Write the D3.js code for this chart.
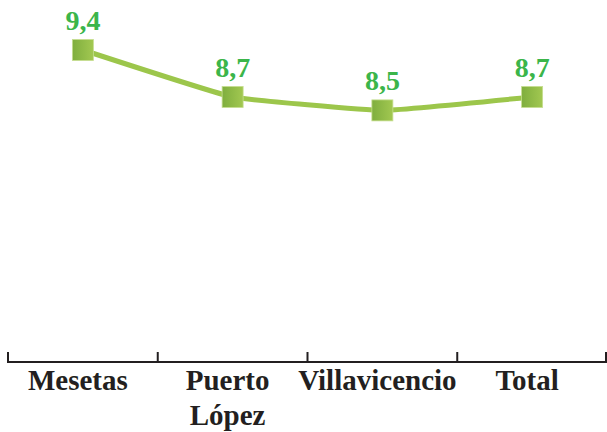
<!DOCTYPE html>
<html>
<head>
<meta charset="utf-8">
<script src="https://cdn.jsdelivr.net/npm/d3@7"></script>
<style>
  html, body { margin: 0; padding: 0; background: #ffffff; }
  svg { display: block; }
</style>
</head>
<body>
<svg id="chart" width="607" height="432"></svg>
<script>
// Category names (each entry is a list of label lines)
const categories = [["Mesetas"], ["Puerto", "López"], ["Villavicencio"], ["Total"]];
const categoryKeys = ["Mesetas", "Puerto López", "Villavicencio", "Total"];
const values = [9.4, 8.7, 8.5, 8.7];
const valueLabels = ["9,4", "8,7", "8,5", "8,7"];

const width = 607, height = 432;
const margin = { left: 8, right: 0, top: 50, axisY: 362 };

const svg = d3.select("#chart");

const x = d3.scaleBand()
  .domain(categoryKeys)
  .range([margin.left, width - margin.right])
  .padding(0);

const y = d3.scaleLinear()
  .domain([4.75, 9.4])
  .range([margin.axisY, margin.top]);

// Gradient for the square markers
const defs = svg.append("defs");
const grad = defs.append("linearGradient")
  .attr("id", "markerGrad")
  .attr("x1", "0%").attr("x2", "100%").attr("y1", "0%").attr("y2", "0%");
grad.append("stop").attr("offset", "0%").attr("stop-color", "#7fae3e");
grad.append("stop").attr("offset", "100%").attr("stop-color", "#a2c851");

// Category axis: baseline with tick marks at band boundaries
const axisG = svg.append("g");
axisG.append("line")
  .attr("x1", margin.left).attr("x2", width)
  .attr("y1", margin.axisY).attr("y2", margin.axisY)
  .attr("stroke", "#231f20").attr("stroke-width", 2);

const boundaries = categoryKeys.map(k => x(k)).concat([x(categoryKeys[categoryKeys.length - 1]) + x.bandwidth()]);
axisG.selectAll("line.tick")
  .data(boundaries)
  .join("line")
  .attr("class", "tick")
  .attr("x1", d => Math.min(d, width - 1)).attr("x2", d => Math.min(d, width - 1))
  .attr("y1", margin.axisY + 1).attr("y2", margin.axisY - 10)
  .attr("stroke", "#231f20").attr("stroke-width", 2);

// Category labels, set slightly left of the band centre
const labelG = axisG.selectAll("text.cat")
  .data(categories)
  .join("text")
  .attr("class", "cat")
  .attr("x", (d, i) => x(categoryKeys[i]) + x.bandwidth() / 2 - 5)
  .attr("y", 390)
  .attr("text-anchor", "middle")
  .attr("font-family", "'Liberation Serif', 'DejaVu Serif', serif")
  .attr("font-weight", "bold")
  .attr("font-size", 29)
  .attr("fill", "#231f20");
labelG.selectAll("tspan")
  .data(d => d)
  .join("tspan")
  .attr("x", function () { return d3.select(this.parentNode).attr("x"); })
  .attr("dy", (d, i) => i === 0 ? 0 : 35)
  .text(d => d);

// Lightly smoothed line through the points
const cx = (d, i) => x(categoryKeys[i]) + x.bandwidth() / 2;
const line = d3.line()
  .x((d, i) => cx(d, i))
  .y(d => y(d))
  .curve(d3.curveCardinal.tension(0.7));

svg.append("path")
  .datum(values)
  .attr("d", line)
  .attr("fill", "none")
  .attr("stroke", "#9cc64b")
  .attr("stroke-width", 5)
  .attr("stroke-linejoin", "round");

// Square markers
const size = 21;
svg.selectAll("rect.marker")
  .data(values)
  .join("rect")
  .attr("class", "marker")
  .attr("x", (d, i) => cx(d, i) - size / 2)
  .attr("y", d => y(d) - size / 2)
  .attr("width", size)
  .attr("height", size)
  .attr("fill", "url(#markerGrad)")
  .attr("stroke", "#c6de8f")
  .attr("stroke-width", 0.8);

// Value labels
svg.selectAll("text.val")
  .data(values)
  .join("text")
  .attr("class", "val")
  .attr("x", (d, i) => cx(d, i))
  .attr("y", d => y(d) - 20)
  .attr("text-anchor", "middle")
  .attr("font-family", "'Liberation Serif', 'DejaVu Serif', serif")
  .attr("font-weight", "bold")
  .attr("font-size", 28)
  .attr("fill", "#3bb54a")
  .text((d, i) => valueLabels[i]);
</script>
</body>
</html>
